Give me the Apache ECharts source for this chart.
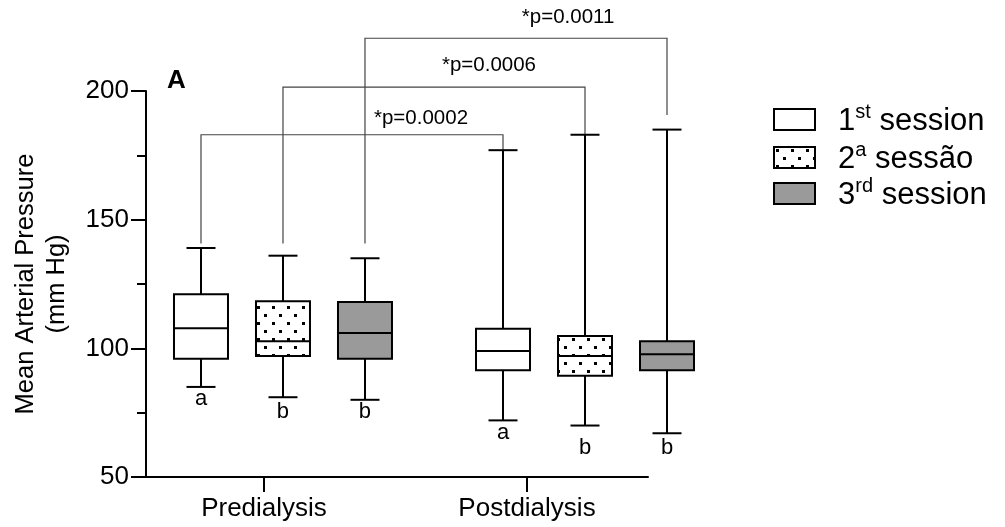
<!DOCTYPE html>
<html>
<head>
<meta charset="utf-8">
<script src="https://cdn.jsdelivr.net/npm/echarts@6/dist/echarts.min.js"></script>
<style>
html,body{margin:0;padding:0;background:#fff;}
#chart{width:1005px;height:527px;}
</style>
</head>
<body>
<div id="chart"></div>
<script>
// ---------- data ----------
const categories = ['Predialysis', 'Postdialysis'];
const yTicks = [50, 100, 150, 200];
const yAxisTitle = 'Mean Arterial Pressure\n(mm Hg)';
const panelLabel = 'A';
// legend: [number, superscript, rest]
const sessionNames = [['1', 'st', ' session'], ['2', 'a', ' sessão'], ['3', 'rd', ' session']];
// [min, Q1, median, Q3, max] per category
const session1 = [[85, 96, 107.8, 121, 139], [72, 91.5, 99, 107.6, 177]];
const session2 = [[81, 97, 102.8, 118.3, 136], [70, 89.3, 97, 104.8, 183]];
const session3 = [[80, 96, 106, 118, 135], [67, 91.5, 97.7, 102.8, 185]];
const letters1 = ['a', 'a'];
const letters2 = ['b', 'b'];
const letters3 = ['b', 'b'];
const pLabels = ['*p=0.0002', '*p=0.0006', '*p=0.0011'];

// ---------- layout (positions / styles) ----------
const BOX_OFFSETS = [-0.2715, 0, 0.2715];
const BOX_HALF = 27, CAP_HALF = 14.5;
const LETTER_LEVEL = [[80.4, 75.2, 75.2], [67.2, 61.4, 61.4]];
const BRACKET_LEVEL = [183, 201.5, 220.5];
const BRACKET_LEFT_END = [140.7, 140.7, 140.7];
const BRACKET_RIGHT_END = [177, 180.2, 190.7];
const P_LABEL_POS = [[0.457, 189.5], [0.682, 210.1], [0.944, 228.7]];
const FONT = '"Liberation Sans", Arial, Helvetica, sans-serif';

// dotted pattern
const cv = document.createElement('canvas');
cv.width = 15; cv.height = 16;
const cx = cv.getContext('2d');
cx.fillStyle = '#fff'; cx.fillRect(0, 0, 15, 16);
cx.fillStyle = '#000';
cx.fillRect(2, 2, 3, 3);
cx.fillRect(9, 10, 3, 3);
const dotPattern = { image: cv, repeat: 'repeat' };
const FILLS = ['#ffffff', dotPattern, '#9a9a9a'];

const sessions = [session1, session2, session3];
const letters = [letters1, letters2, letters3];

function boxRenderer(k) {
  return function (params, api) {
    const g = api.value(0);
    const xv = g + BOX_OFFSETS[k];
    const x = api.coord([xv, api.value(3)])[0];
    const yMin = api.coord([xv, api.value(1)])[1];
    const yQ1 = api.coord([xv, api.value(2)])[1];
    const yMed = api.coord([xv, api.value(3)])[1];
    const yQ3 = api.coord([xv, api.value(4)])[1];
    const yMax = api.coord([xv, api.value(5)])[1];
    const yLet = api.coord([xv, LETTER_LEVEL[g][k]])[1];
    const ls = { stroke: '#000', lineWidth: 2 };
    return {
      type: 'group',
      children: [
        { type: 'line', shape: { x1: x, y1: yMax, x2: x, y2: yQ3 }, style: ls },
        { type: 'line', shape: { x1: x, y1: yQ1, x2: x, y2: yMin }, style: ls },
        { type: 'line', shape: { x1: x - CAP_HALF, y1: yMax, x2: x + CAP_HALF, y2: yMax }, style: ls },
        { type: 'line', shape: { x1: x - CAP_HALF, y1: yMin, x2: x + CAP_HALF, y2: yMin }, style: ls },
        { type: 'rect', shape: { x: x - BOX_HALF, y: yQ3, width: BOX_HALF * 2, height: yQ1 - yQ3 },
          style: { fill: FILLS[k], stroke: '#000', lineWidth: 2 } },
        { type: 'line', shape: { x1: x - BOX_HALF, y1: yMed, x2: x + BOX_HALF, y2: yMed }, style: ls },
        { type: 'text', x: x, y: yLet,
          style: { text: letters[k][g], fill: '#000', font: '22px ' + FONT, align: 'center', verticalAlign: 'middle' } }
      ]
    };
  };
}

function bracketRenderer(params, api) {
  const i = api.value(0);
  const lvl = BRACKET_LEVEL[i];
  const xa = api.coord([0 + BOX_OFFSETS[i], lvl])[0];
  const xb = api.coord([1 + BOX_OFFSETS[i], lvl])[0];
  const yl = api.coord([0, lvl])[1];
  const y0 = api.coord([0, BRACKET_LEFT_END[i]])[1];
  const y1 = api.coord([0, BRACKET_RIGHT_END[i]])[1];
  const lp = api.coord(P_LABEL_POS[i]);
  return {
    type: 'group',
    children: [
      { type: 'polyline', shape: { points: [[xa, y0], [xa, yl], [xb, yl], [xb, y1]] },
        style: { stroke: '#444', lineWidth: 1.2, fill: null } },
      { type: 'text', x: lp[0], y: lp[1],
        style: { text: pLabels[i], fill: '#000', font: '20.5px ' + FONT, align: 'center', verticalAlign: 'middle' } }
    ]
  };
}

const series = sessions.map((s, k) => ({
  type: 'custom',
  name: sessionNames[k].join(''),
  xAxisIndex: 1,
  yAxisIndex: 0,
  clip: false,
  silent: true,
  renderItem: boxRenderer(k),
  encode: { x: 0, y: [1, 2, 3, 4, 5] },
  data: s.map((v, g) => [g].concat(v)),
  z: 3
}));
series.push({
  type: 'custom',
  xAxisIndex: 1,
  yAxisIndex: 0,
  clip: false,
  silent: true,
  renderItem: bracketRenderer,
  encode: { x: 0, y: 1 },
  data: pLabels.map((p, i) => [i, BRACKET_LEVEL[i]]),
  z: 2
});

const legendRowY = [118.5, 156.5, 192.5];
const legendGraphics = [];
sessionNames.forEach((nm, k) => {
  legendGraphics.push({
    type: 'rect', left: 773, top: legendRowY[k] - 10.5,
    shape: { width: 41, height: 21 },
    style: { fill: FILLS[k], stroke: '#000', lineWidth: 2 }
  });
  legendGraphics.push({
    type: 'text', x: 838, y: legendRowY[k] + 1,
    style: {
      text: '{n|' + nm[0] + '}{s|' + nm[1] + '}{n|' + nm[2] + '}',
      verticalAlign: 'middle', align: 'left',
      rich: {
        n: { fontSize: 31, fontFamily: FONT, fill: '#000', color: '#000', verticalAlign: 'bottom', lineHeight: 34 },
        s: { fontSize: 20, fontFamily: FONT, fill: '#000', color: '#000', verticalAlign: 'top', lineHeight: 22 }
      }
    }
  });
});
legendGraphics.push({
  type: 'text', x: 167, y: 81,
  style: { text: panelLabel, font: 'bold 26px ' + FONT, fill: '#000', verticalAlign: 'middle', align: 'left' }
});

const chart = echarts.init(document.getElementById('chart'), null, { renderer: 'canvas' });
chart.setOption({
  animation: false,
  backgroundColor: '#fff',
  grid: { left: 146, top: 91, width: 502, height: 386, containLabel: false, outerBoundsMode: 'none' },
  xAxis: [
    {
      type: 'value', min: -0.4487, max: 1.4601,
      axisLine: { show: true, onZero: false, lineStyle: { color: '#000', width: 2 } },
      axisTick: { show: true, length: 15, customValues: [0, 1], lineStyle: { color: '#000', width: 2 } },
      axisLabel: { show: true, customValues: [0, 1], margin: 19, fontSize: 26, fontFamily: FONT, color: '#000',
        formatter: v => categories[Math.round(v)] },
      splitLine: { show: false }
    },
    {
      type: 'value', min: -0.4536, max: 1.2086, show: false,
      splitLine: { show: false }
    }
  ],
  yAxis: [{
    type: 'value', min: yTicks[0], max: yTicks[yTicks.length - 1], interval: 50,
    name: yAxisTitle, nameLocation: 'middle', nameGap: 74, nameRotate: 90,
    nameTextStyle: { fontSize: 25.5, fontFamily: FONT, color: '#000', lineHeight: 31 },
    axisLine: { show: true, onZero: false, lineStyle: { color: '#000', width: 2 } },
    axisTick: { show: true, length: 15, lineStyle: { color: '#000', width: 2 } },
    minorTick: { show: true, splitNumber: 2, length: 9, lineStyle: { color: '#000', width: 2 } },
    axisLabel: { margin: 17, fontSize: 26, fontFamily: FONT, color: '#000' },
    splitLine: { show: false }
  }],
  graphic: legendGraphics,
  series: series
});
</script>
</body>
</html>
